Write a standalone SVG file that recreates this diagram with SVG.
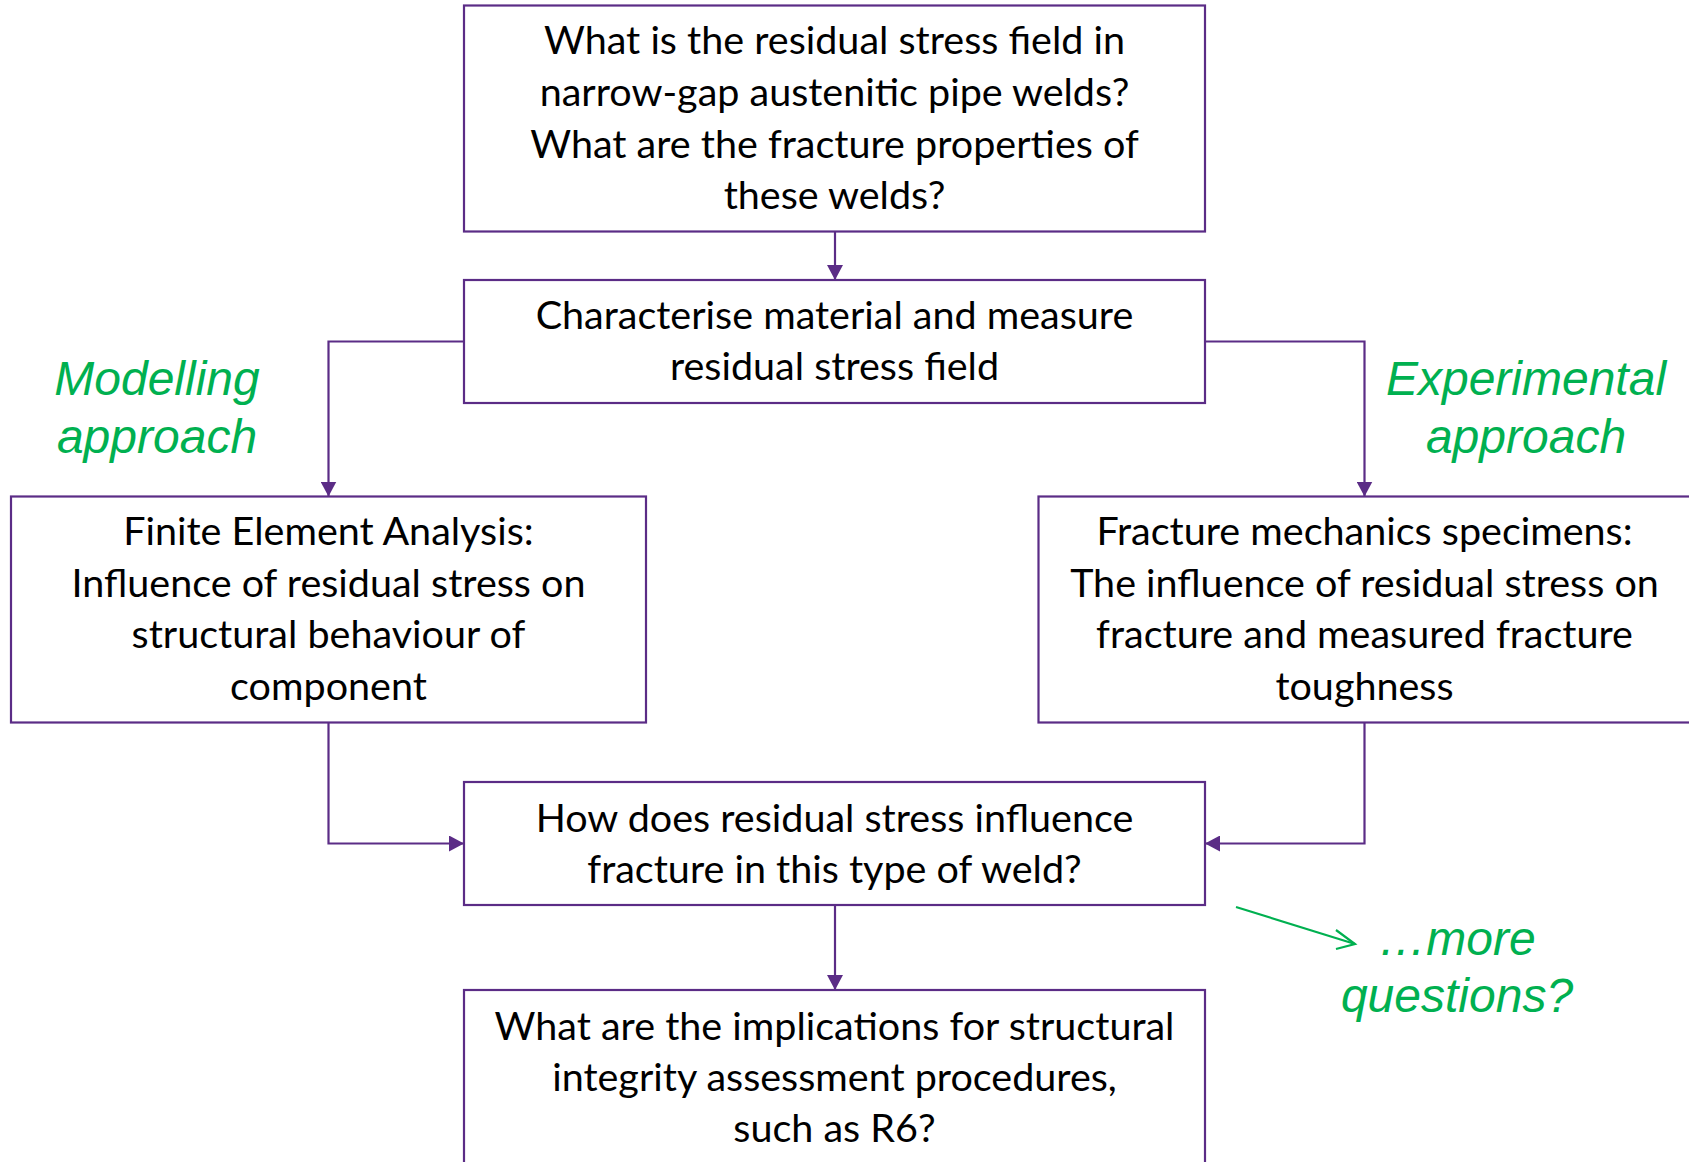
<svg xmlns="http://www.w3.org/2000/svg" width="1689" height="1162" viewBox="0 0 1689 1162">
<style>
.box{fill:#ffffff;stroke:#5B2C86;stroke-width:2.2}
.t{font-family:Lato,"Open Sans",sans-serif;font-size:39.5px;fill:#000000;text-anchor:middle}
.g{font-family:"Liberation Sans",Arial,sans-serif;font-style:italic;font-size:48px;fill:#00B050;text-anchor:middle}
.c{fill:none;stroke:#5B2C86;stroke-width:2.2}
</style>
<defs>
<marker id="ah" viewBox="0 0 15 16" refX="15" refY="8" markerWidth="15" markerHeight="16" markerUnits="userSpaceOnUse" orient="auto">
<path d="M0,0 L15,8 L0,16 Z" fill="#5B2C86"/>
</marker>
</defs>
<rect width="1689" height="1162" fill="#ffffff"/>
<g id="connectors">
<line class="c" x1="835" y1="232" x2="835" y2="280" marker-end="url(#ah)"/>
<polyline class="c" points="464,341.5 328.5,341.5 328.5,496.5" marker-end="url(#ah)"/>
<polyline class="c" points="1205,341.5 1364.5,341.5 1364.5,496.5" marker-end="url(#ah)"/>
<polyline class="c" points="328.5,723 328.5,843.5 464,843.5" marker-end="url(#ah)"/>
<polyline class="c" points="1364.5,723 1364.5,843.5 1205,843.5" marker-end="url(#ah)"/>
<line class="c" x1="835" y1="905" x2="835" y2="990" marker-end="url(#ah)"/>
<g id="green-arrow" stroke="#00B050" stroke-width="2.2" fill="none">
<line x1="1236" y1="907" x2="1355" y2="944"/>
<polyline points="1336,930 1355,944 1336,949"/>
</g>
</g>
<g id="n1">
<rect class="box" x="464" y="5.5" width="741" height="226"/>
<text class="t" x="834.5" y="54">What is the residual stress field in</text>
<text class="t" x="834.5" y="106">narrow-gap austenitic pipe welds?</text>
<text class="t" x="834.5" y="157.5">What are the fracture properties of</text>
<text class="t" x="834.5" y="209">these welds?</text>
</g>
<g id="n2">
<rect class="box" x="464" y="280" width="741" height="123"/>
<text class="t" x="834.5" y="329">Characterise material and measure</text>
<text class="t" x="834.5" y="380">residual stress field</text>
</g>
<g id="n3">
<rect class="box" x="11" y="496.5" width="635" height="226"/>
<text class="t" x="328.5" y="545">Finite Element Analysis:</text>
<text class="t" x="328.5" y="597">Influence of residual stress on</text>
<text class="t" x="328.5" y="648">structural behaviour of</text>
<text class="t" x="328.5" y="700">component</text>
</g>
<g id="n4">
<rect class="box" x="1038.5" y="496.5" width="660" height="226"/>
<text class="t" x="1364.5" y="545">Fracture mechanics specimens:</text>
<text class="t" x="1364.5" y="597">The influence of residual stress on</text>
<text class="t" x="1364.5" y="648">fracture and measured fracture</text>
<text class="t" x="1364.5" y="700">toughness</text>
</g>
<g id="n5">
<rect class="box" x="464" y="782" width="741" height="123"/>
<text class="t" x="834.5" y="832">How does residual stress influence</text>
<text class="t" x="834.5" y="883">fracture in this type of weld?</text>
</g>
<g id="n6">
<rect class="box" x="464" y="990" width="741" height="200"/>
<text class="t" x="834.5" y="1040">What are the implications for structural</text>
<text class="t" x="834.5" y="1091">integrity assessment procedures,</text>
<text class="t" x="834.5" y="1142">such as R6?</text>
</g>
<g id="label-modelling">
<text class="g" x="157" y="395">Modelling</text>
<text class="g" x="157" y="453">approach</text>
</g>
<g id="label-experimental">
<text class="g" x="1526" y="395">Experimental</text>
<text class="g" x="1526" y="453">approach</text>
</g>
<g id="label-more">
<text class="g" x="1457" y="955">…more</text>
<text class="g" x="1457" y="1012">questions?</text>
</g>
</svg>
